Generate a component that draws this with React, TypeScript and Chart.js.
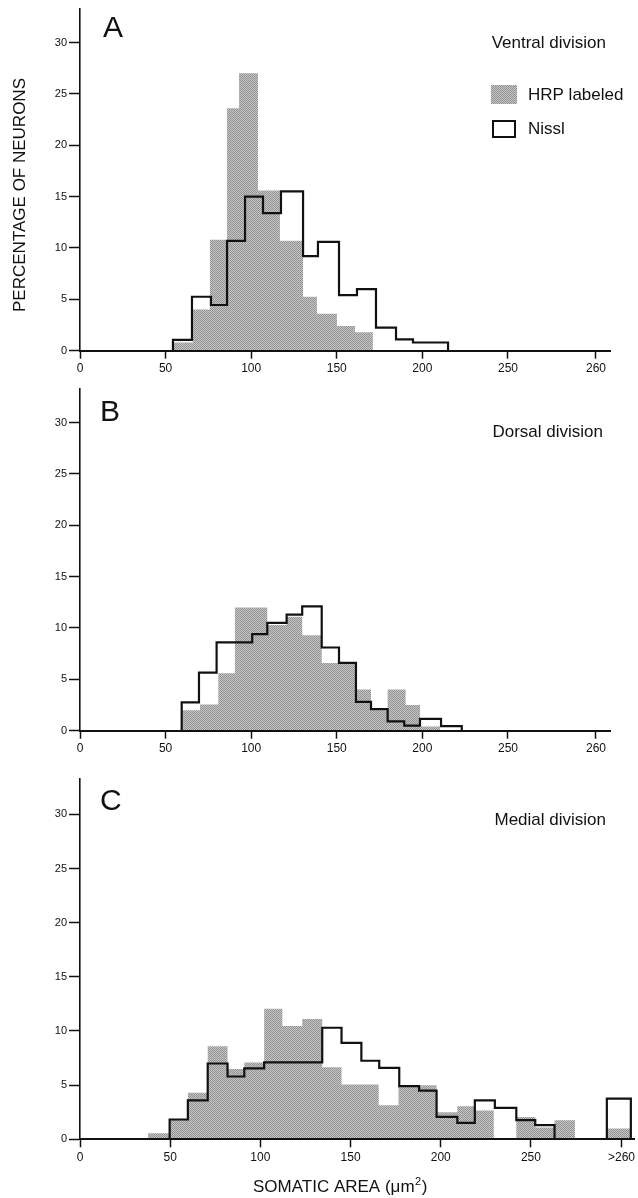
import React, { useEffect, useRef } from "react";
import { Chart, registerables } from "chart.js";

Chart.register(...registerables);

const FONT = "'Liberation Sans', Arial, Helvetica, sans-serif";

// ---------- axes ----------
const Y_TICKS = [0, 5, 10, 15, 20, 25, 30];
const Y_MAX = 33.3;

// last tick sits at the axis break
const X_TICKS_AB = [0, 50, 100, 150, 200, 250, 301.4];
const X_LABELS_AB = ["0", "50", "100", "150", "200", "250", "260"];
const X_MAX_AB = 309.6;
const X_TICKS_C = [0, 50, 100, 150, 200, 250, 300.2];
const X_LABELS_C = ["0", "50", "100", "150", "200", "250", ">260"];
const X_MAX_C = 307.4;

// ---------- A: Ventral division ----------
const A_HRP_EDGES = [54.3, 66.0, 75.9, 85.9, 92.9, 104.0, 116.8, 130.3, 138.4, 150.1, 160.6, 171.1];
const A_HRP = [0.8, 4.0, 10.8, 23.6, 27.0, 15.6, 10.7, 5.25, 3.6, 2.4, 1.8];
const A_NISSL_EDGES = [54.3, 65.4, 76.5, 85.9, 96.4, 106.9, 117.4, 130.3, 139.0, 151.3, 161.8, 172.9, 184.6, 194.5, 204.7, 215.0];
const A_NISSL = [1.05, 5.25, 4.45, 10.7, 15.0, 13.4, 15.5, 9.2, 10.6, 5.4, 6.0, 2.25, 1.1, 0.8, 0.8];

// ---------- B: Dorsal division ----------
const B_HRP_EDGES = [59.4, 70.1, 80.8, 90.5, 99.9, 109.4, 120.7, 129.8, 141.2, 151.3, 161.2, 170.0, 179.7, 190.2, 198.6, 210.3];
const B_HRP = [2.0, 2.55, 5.6, 12.0, 12.0, 10.3, 11.1, 9.3, 6.6, 6.6, 4.0, 2.0, 4.0, 2.5, 0.4];
const B_NISSL_EDGES = [59.4, 69.5, 79.8, 90.2, 100.6, 109.4, 120.7, 129.8, 141.2, 151.3, 161.2, 170.0, 179.7, 189.4, 198.6, 210.9, 223.0];
const B_NISSL = [2.75, 5.65, 8.6, 8.6, 9.4, 10.5, 11.3, 12.1, 8.1, 6.6, 2.8, 2.1, 0.9, 0.5, 1.15, 0.45];

// ---------- C: Medial division ----------
const C_HRP_EDGES = [37.7, 49.7, 59.8, 70.8, 81.8, 91.1, 102.1, 112.2, 123.2, 134.3, 145.0, 155.1, 165.6, 176.6, 188.0, 197.7, 209.2, 218.9, 229.4, 241.9, 252.4, 263.1, 274.4];
const C_HRP = [0.55, 1.8, 4.3, 8.6, 6.5, 7.1, 12.05, 10.45, 11.1, 6.65, 5.05, 5.05, 3.15, 4.9, 5.0, 2.5, 3.05, 2.65, 0, 2.07, 1.1, 1.77];
const C_NISSL_EDGES = [49.7, 59.8, 70.8, 81.8, 91.1, 102.1, 112.8, 123.6, 134.3, 145.0, 156.0, 165.9, 177.0, 188.0, 197.7, 209.2, 218.9, 230.0, 241.9, 252.4, 263.1];
const C_NISSL = [1.83, 3.6, 7.0, 5.8, 6.55, 7.1, 7.1, 7.1, 10.3, 8.9, 7.25, 6.6, 4.9, 4.5, 2.07, 1.52, 3.6, 2.9, 1.77, 1.3];
// ">260" bin
const C_OVER_EDGES = [292.1, 305.4];
const C_HRP_OVER = [1.0];
const C_NISSL_OVER = [3.75];

type Pt = { x: number; y: number };

// points for a step outline: each bin value is held from its left edge to the next edge
function steps(edges: number[], values: number[]): Pt[] {
  const pts: Pt[] = [{ x: edges[0], y: 0 }, { x: edges[0], y: values[0] }];
  values.forEach((v, i) => pts.push({ x: edges[i + 1], y: v }));
  pts.push({ x: edges[edges.length - 1], y: 0 });
  return pts;
}

function makePattern(): CanvasPattern | string {
  const c = document.createElement("canvas");
  c.width = 4;
  c.height = 4;
  const g = c.getContext("2d");
  if (!g) return "#aaaaaa";
  const m = [
    [0x8e, 0xc6, 0x96, 0xc2],
    [0xc4, 0x98, 0xc8, 0x90],
    [0x94, 0xc2, 0x8c, 0xc6],
    [0xc8, 0x92, 0xc4, 0x9a],
  ];
  for (let y = 0; y < 4; y++)
    for (let x = 0; x < 4; x++) {
      const v = m[y][x];
      g.fillStyle = `rgb(${v},${v},${v})`;
      g.fillRect(x, y, 1, 1);
    }
  return g.createPattern(c, "repeat") || "#aaaaaa";
}

function textPlugin(id: string, draw: (ctx: CanvasRenderingContext2D) => void) {
  return {
    id,
    afterDraw(chart: any) {
      const ctx: CanvasRenderingContext2D = chart.ctx;
      ctx.save();
      ctx.fillStyle = "#111";
      ctx.strokeStyle = "#111";
      ctx.textBaseline = "alphabetic";
      draw(ctx);
      ctx.restore();
    },
  };
}

function makeConfig(
  pattern: any,
  hrpPts: Pt[],
  nisslPts: Pt[],
  xTicks: number[],
  xLabels: string[],
  xMax: number,
  pad: { left: number; right: number; top: number; bottom: number },
  xAxisHeight: number,
  plugin: any
): any {
  const tickFont = { family: FONT, size: 12 };
  return {
    type: "line",
    data: {
      datasets: [
        {
          label: "HRP labeled",
          data: hrpPts,
          stepped: "after",
          fill: "origin",
          backgroundColor: pattern,
          borderColor: "rgba(0,0,0,0)",
          borderWidth: 0,
          pointRadius: 0,
          order: 2,
        },
        {
          label: "Nissl",
          data: nisslPts,
          stepped: "after",
          fill: false,
          borderColor: "#111",
          borderWidth: 2.2,
          pointRadius: 0,
          order: 1,
        },
      ],
    },
    options: {
      animation: false,
      responsive: false,
      devicePixelRatio: 1,
      events: [],
      layout: { padding: pad },
      plugins: { legend: { display: false }, tooltip: { enabled: false } },
      scales: {
        x: {
          type: "linear",
          min: 0,
          max: xMax,
          afterBuildTicks: (s: any) => {
            s.ticks = xTicks.map((v) => ({ value: v }));
          },
          afterFit: (s: any) => {
            s.height = xAxisHeight;
          },
          grid: { drawOnChartArea: false, drawTicks: true, tickLength: 8, tickColor: "#111", tickWidth: 1.5 },
          border: { display: true, color: "#111", width: 2, z: 1 },
          ticks: {
            autoSkip: false,
            maxRotation: 0,
            minRotation: 0,
            padding: 3,
            color: "#111",
            font: tickFont,
            callback: (v: number) => {
              const i = xTicks.indexOf(v);
              return i >= 0 ? xLabels[i] : "";
            },
          },
        },
        y: {
          type: "linear",
          min: 0,
          max: Y_MAX,
          afterBuildTicks: (s: any) => {
            s.ticks = Y_TICKS.map((v) => ({ value: v }));
          },
          afterFit: (s: any) => {
            s.width = 80;
          },
          grid: { drawOnChartArea: false, drawTicks: true, tickLength: 11, tickColor: "#111", tickWidth: 1.5 },
          border: { display: true, color: "#111", width: 1.6, z: 1 },
          ticks: {
            padding: 2,
            color: "#111",
            font: { family: FONT, size: 11 },
            callback: (v: number) => String(v),
          },
        },
      },
    },
    plugins: [plugin],
  };
}

export default function App() {
  const aRef = useRef<HTMLCanvasElement>(null);
  const bRef = useRef<HTMLCanvasElement>(null);
  const cRef = useRef<HTMLCanvasElement>(null);

  useEffect(() => {
    const pattern = makePattern();

    const plugA = textPlugin("textA", (ctx) => {
      ctx.font = `30px ${FONT}`;
      ctx.textAlign = "left";
      ctx.fillText("A", 103, 37);
      ctx.font = `17px ${FONT}`;
      ctx.textAlign = "right";
      ctx.fillText("Ventral division", 606, 48);
      // legend
      ctx.textAlign = "left";
      ctx.fillStyle = pattern as any;
      ctx.fillRect(491, 85, 26, 19);
      ctx.fillStyle = "#111";
      ctx.fillText("HRP labeled", 528, 99.5);
      ctx.lineWidth = 2;
      ctx.strokeRect(493, 121, 22, 16);
      ctx.fillText("Nissl", 528, 134);
      // y title
      ctx.save();
      ctx.translate(25, 195);
      ctx.rotate(-Math.PI / 2);
      ctx.textAlign = "center";
      ctx.fillText("PERCENTAGE OF NEURONS", 0, 0);
      ctx.restore();
    });

    const plugB = textPlugin("textB", (ctx) => {
      ctx.font = `30px ${FONT}`;
      ctx.textAlign = "left";
      ctx.fillText("B", 100, 40.7);
      ctx.font = `17px ${FONT}`;
      ctx.textAlign = "right";
      ctx.fillText("Dorsal division", 603, 57);
    });

    const plugC = textPlugin("textC", (ctx) => {
      ctx.font = `30px ${FONT}`;
      ctx.textAlign = "left";
      ctx.fillText("C", 100, 40);
      ctx.font = `17px ${FONT}`;
      ctx.textAlign = "right";
      ctx.fillText("Medial division", 606, 55);
      // x title with superscript
      ctx.textAlign = "left";
      const main = "SOMATIC AREA (\u03BCm";
      let x = 253;
      const base = 422;
      ctx.fillText(main, x, base);
      x += ctx.measureText(main).width;
      ctx.font = `11px ${FONT}`;
      ctx.fillText("2", x + 0.5, base - 7);
      x += ctx.measureText("2").width + 1;
      ctx.font = `17px ${FONT}`;
      ctx.fillText(")", x, base);
    });

    const charts: Chart[] = [];
    if (aRef.current)
      charts.push(
        new Chart(
          aRef.current,
          makeConfig(
            pattern,
            steps(A_HRP_EDGES, A_HRP),
            steps(A_NISSL_EDGES, A_NISSL),
            X_TICKS_AB,
            X_LABELS_AB,
            X_MAX_AB,
            { left: 0, right: 28, top: 8, bottom: 0 },
            29.3,
            plugA
          )
        )
      );
    if (bRef.current)
      charts.push(
        new Chart(
          bRef.current,
          makeConfig(
            pattern,
            steps(B_HRP_EDGES, B_HRP),
            steps(B_NISSL_EDGES, B_NISSL),
            X_TICKS_AB,
            X_LABELS_AB,
            X_MAX_AB,
            { left: 0, right: 28, top: 8, bottom: 0 },
            39.3,
            plugB
          )
        )
      );
    if (cRef.current)
      charts.push(
        new Chart(
          cRef.current,
          makeConfig(
            pattern,
            [...steps(C_HRP_EDGES, C_HRP), ...steps(C_OVER_EDGES, C_HRP_OVER)],
            [...steps(C_NISSL_EDGES, C_NISSL), ...steps(C_OVER_EDGES, C_NISSL_OVER)],
            X_TICKS_C,
            X_LABELS_C,
            X_MAX_C,
            { left: 0, right: 1, top: 6, bottom: 0 },
            58.7,
            plugC
          )
        )
      );
    return () => charts.forEach((c) => c.destroy());
  }, []);

  return (
    <div style={{ position: "absolute", left: 0, top: 0, width: 638, height: 1198, background: "#fff" }}>
      <canvas ref={aRef} width={638} height={380} style={{ position: "absolute", left: 0, top: 0 }} />
      <canvas ref={bRef} width={638} height={390} style={{ position: "absolute", left: 0, top: 380 }} />
      <canvas ref={cRef} width={638} height={428} style={{ position: "absolute", left: 0, top: 770 }} />
    </div>
  );
}
